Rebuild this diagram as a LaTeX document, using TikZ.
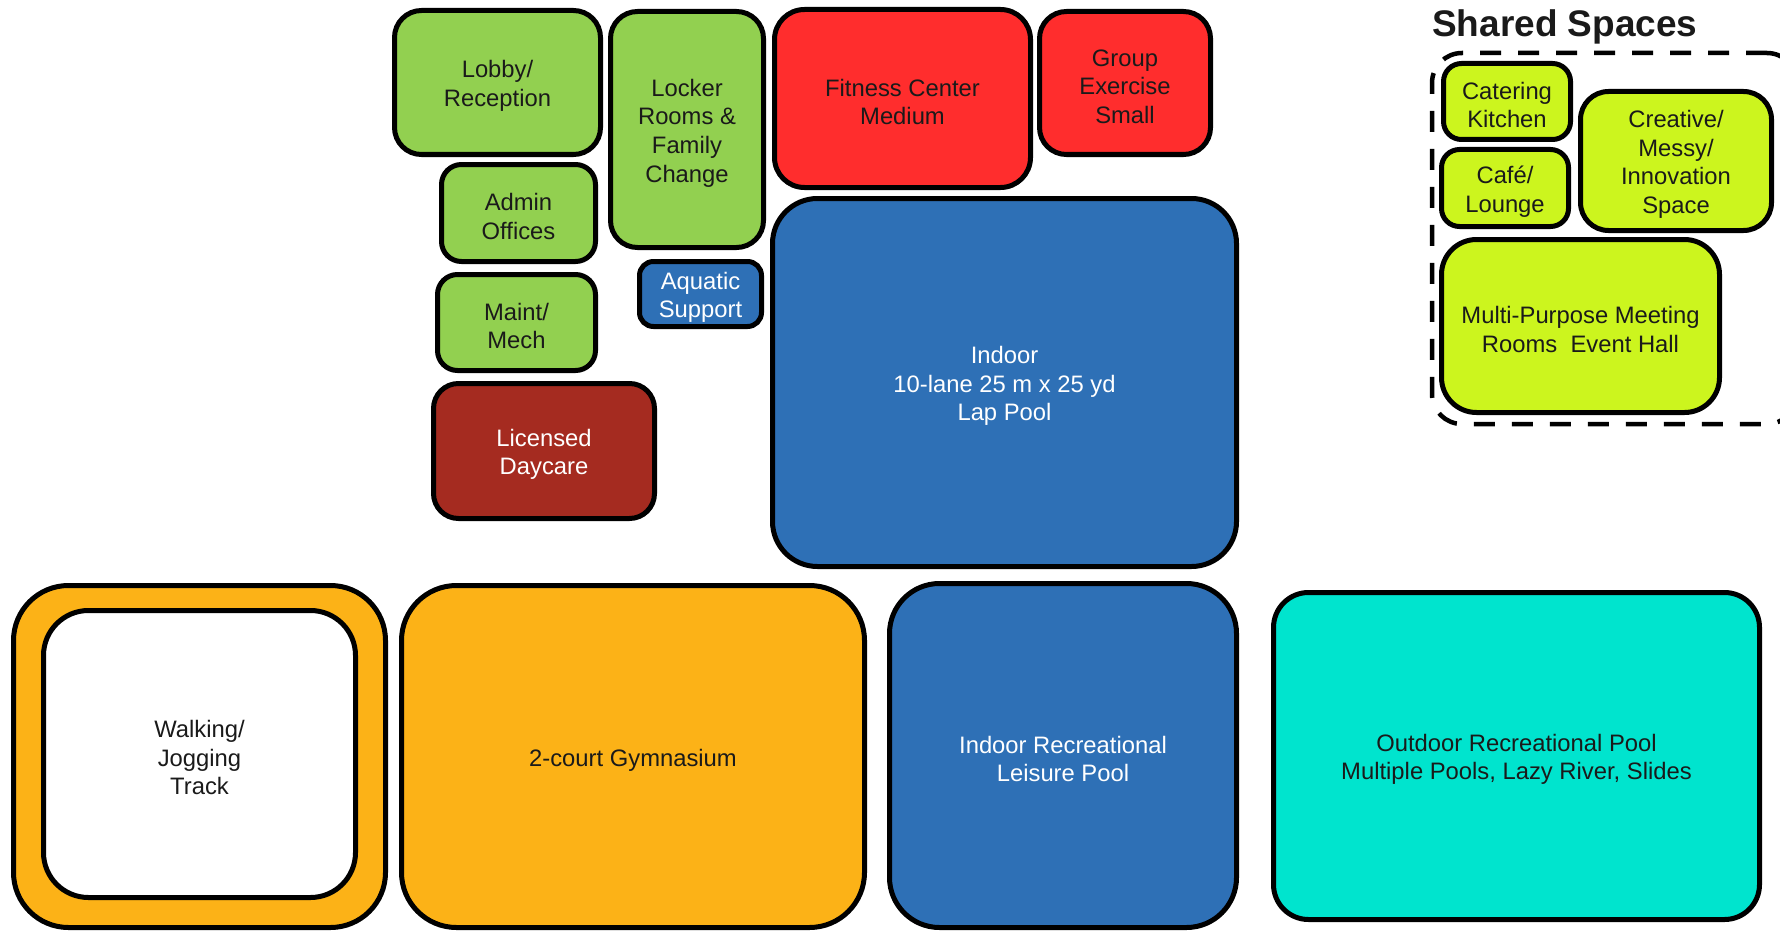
\documentclass[tikz,border=0pt]{standalone}
\usepackage{fontspec}
\setmainfont{Liberation Sans}

\definecolor{leafgreen}{HTML}{92D050}
\definecolor{firered}{HTML}{FF2D2D}
\definecolor{poolblue}{HTML}{2E70B6}
\definecolor{brick}{HTML}{A52B20}
\definecolor{amber}{HTML}{FCB217}
\definecolor{aquateal}{HTML}{00E4CE}
\definecolor{sharedlime}{HTML}{CCF51E}
\definecolor{inktext}{HTML}{1A1A1A}

% A room: name, left, top, right, bottom (outer edges, px), style, label.
% The box is one node; its label sits in a second node at the box centre.
\newcommand\placeroom[7]{%
  \node[room,#6,minimum width={#4-#2-5},minimum height={#5-#3-5}]
    (#1) at ({(#2+#4)/2},{(#3+#5)/2}) {};
  \node[roomlabel,#6,draw=none,fill=none] (#1-label) at (#1.center) {#7};}

\begin{document}
\begin{tikzpicture}[x=1pt,y=-1pt,
  room/.style={draw=black,line width=5pt,inner sep=0pt,rounded corners=25pt},
  roomlabel/.style={inner sep=0pt,align=center,text=inktext,yshift=-3.5pt,
    font=\fontsize{23.8}{28.6}\selectfont},
  staff/.style={fill=leafgreen},
  fitness/.style={fill=firered},
  aquatic/.style={fill=poolblue,text=white},
  daycare/.style={fill=brick,text=white},
  court/.style={fill=amber},
  outdoor/.style={fill=aquateal},
  shared/.style={fill=sharedlime},
  sharedzone/.style={draw=black,line width=4.5pt,dash pattern=on 21pt off 17pt,
    rounded corners=30pt,inner sep=0pt}]

\useasboundingbox (0,0) rectangle (1780,931);
\clip (0,0) rectangle (1780,931);

% Staff and support rooms
\placeroom{lobby}{392}{8}{603}{157}{staff,rounded corners=27pt}{Lobby/\\Reception}
\placeroom{locker}{608}{9}{766}{250}{staff,rounded corners=27pt}{Locker\\Rooms \&\\Family\\Change}
\placeroom{admin}{439}{162}{598}{264}{staff,rounded corners=20pt}{Admin\\Offices}
\placeroom{maint}{435}{272}{598}{373}{staff,rounded corners=20pt}{Maint/\\Mech}
\placeroom{aqsupport}{637}{259}{764}{329}{aquatic,rounded corners=14pt}{Aquatic\\Support}
\placeroom{daycare}{431}{381}{657}{521}{daycare,rounded corners=25pt}{Licensed\\Daycare}

% Fitness
\placeroom{fitness}{772}{7}{1033}{190}{fitness,rounded corners=30pt}{Fitness Center\\Medium}
\placeroom{groupex}{1037}{9}{1213}{157}{fitness,rounded corners=27pt}{Group\\Exercise\\Small}

% Lap pool
\placeroom{lappool}{770}{196}{1239}{569}{aquatic,rounded corners=45pt}{Indoor\\10-lane 25 m x 25 yd\\Lap Pool}

% Shared spaces
\node[anchor=base west,inner sep=0pt,text=inktext,
  font=\bfseries\fontsize{37}{40}\selectfont] (sharedtitle) at (1432,37) {Shared Spaces};
\node[sharedzone,minimum width=365,minimum height=371] (sharedarea) at (1614.5,238.5) {};
\placeroom{catering}{1441}{61}{1573}{142}{shared,rounded corners=18pt}{Catering\\Kitchen}
\placeroom{cafe}{1439}{147}{1571}{229}{shared,rounded corners=18pt}{Café/\\Lounge}
\placeroom{creative}{1578}{89}{1774}{233}{shared,rounded corners=28pt}{Creative/\\Messy/\\Innovation\\Space}
\placeroom{meeting}{1439}{237}{1722}{415}{shared,rounded corners=35pt}{Multi-Purpose Meeting\\Rooms~~Event Hall}

% Bottom row
\placeroom{trackring}{11}{583}{388}{930}{court,rounded corners=55pt}{}
\placeroom{track}{41}{608}{358}{900}{fill=white,rounded corners=45pt}{Walking/\\Jogging\\Track}
\placeroom{gym}{399}{583}{867}{930}{court,rounded corners=55pt}{2-court Gymnasium}
\placeroom{leisure}{887}{581}{1239}{930}{aquatic,rounded corners=50pt}{Indoor Recreational\\Leisure Pool}
\placeroom{outpool}{1271}{590}{1762}{922}{outdoor,rounded corners=35pt}{Outdoor Recreational Pool\\Multiple Pools, Lazy River, Slides}

\end{tikzpicture}
\end{document}
